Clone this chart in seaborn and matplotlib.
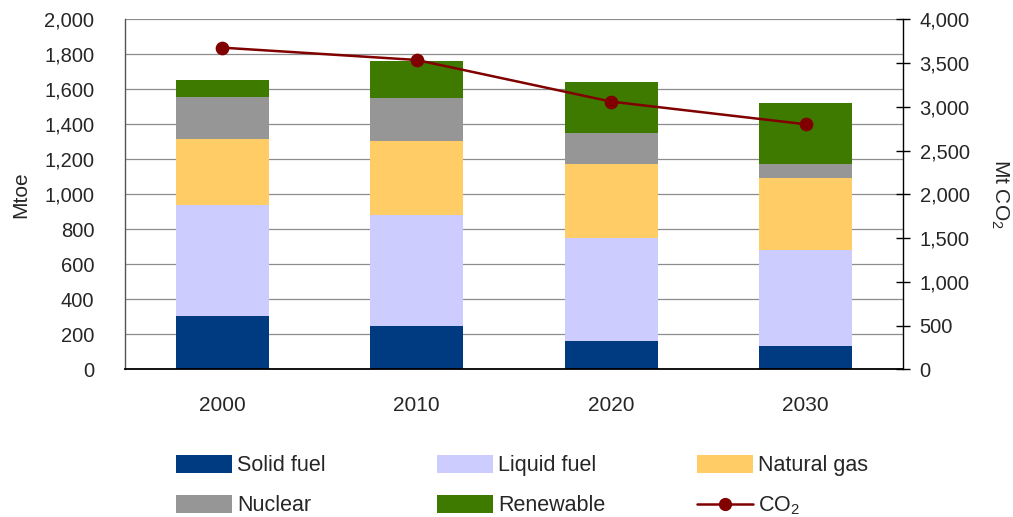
import numpy as np
import pandas as pd
import matplotlib
matplotlib.use("Agg")
import matplotlib.pyplot as plt
from matplotlib.ticker import FuncFormatter
from matplotlib.patches import Patch
from matplotlib.lines import Line2D
import seaborn as sns

years = ["2000", "2010", "2020", "2030"]
solid = [305, 248, 162, 133]
liquid = [634, 634, 588, 551]
gas = [377, 423, 423, 409]
nuclear = [240, 245, 177, 80]
renewable = [97, 212, 292, 349]
co2 = [3676, 3535, 3059, 2800]

series_names = ["Solid fuel", "Liquid fuel", "Natural gas", "Nuclear", "Renewable"]
series_vals = [solid, liquid, gas, nuclear, renewable]
colors = ["#003A80", "#CCCCFF", "#FFCC66", "#969696", "#3F7A00"]
co2_color = "#800000"

sns.set_style("white")
plt.rcParams["font.family"] = ["Liberation Sans", "DejaVu Sans"]
plt.rcParams["mathtext.fontset"] = "custom"
plt.rcParams["mathtext.rm"] = "Liberation Sans"
plt.rcParams["mathtext.it"] = "Liberation Sans:italic"

fs_tick = 14.5
fs_lab = 15
fs_leg = 15.5
fig = plt.figure(figsize=(10.13, 5.17), dpi=100)
ax = fig.add_axes([0.1234, 0.2857, 0.7680, 0.6770])

cum = np.cumsum(np.array(series_vals), axis=0)
for i in range(len(series_names) - 1, -1, -1):
    df = pd.DataFrame({"year": years, "value": cum[i]})
    sns.barplot(data=df, x="year", y="value", color=colors[i], saturation=1,
                width=0.48, ax=ax, errorbar=None, linewidth=0, zorder=2)

ax.set_xlim(-0.5, 3.5)
ax.set_ylim(0, 2000)
ax.set_yticks(np.arange(0, 2001, 200))
ax.yaxis.set_major_formatter(FuncFormatter(lambda v, p: f"{int(v):,}"))
ax.grid(axis="y", color="#8c8c8c", linewidth=0.9, zorder=0)
ax.set_axisbelow(True)
ax.set_xlabel("")
ax.set_ylabel("Mtoe", fontsize=fs_lab, labelpad=10)
ax.tick_params(axis="x", length=0, pad=19, labelsize=15)
ax.tick_params(axis="y", length=0, pad=22, labelsize=fs_tick)
for s in ["top", "right"]:
    ax.spines[s].set_visible(False)
ax.spines["left"].set_color("#555555")
ax.spines["left"].set_linewidth(1.0)
ax.spines["bottom"].set_color("#000000")
ax.spines["bottom"].set_linewidth(1.3)

ax2 = ax.twinx()
sns.pointplot(x=years, y=co2, ax=ax2, color=co2_color, markers="o",
              markersize=8.5, linewidth=1.8, errorbar=None)
ax2.set_xlim(-0.5, 3.5)
ax2.set_ylim(0, 4000)
ax2.set_yticks(np.arange(0, 4001, 500))
ax2.yaxis.set_major_formatter(FuncFormatter(lambda v, p: f"{int(v):,}"))
ax2.tick_params(axis="y", direction="inout", length=10, width=1, pad=7,
                labelsize=fs_tick, color="#000000")
ax2.set_ylabel("Mt CO$_2$", fontsize=fs_lab, rotation=270, labelpad=29)
for s in ["top", "left", "bottom"]:
    ax2.spines[s].set_visible(False)
ax2.spines["right"].set_color("#000000")
ax2.spines["right"].set_linewidth(1.0)
ax2.grid(False)

handles = [Patch(facecolor=c, edgecolor="none") for c in colors]
co2_handle = Line2D([], [], color=co2_color, linewidth=1.8, marker="o", markersize=8.5)
all_handles = handles + [co2_handle]
all_labels = series_names + ["CO$_{2}$"]
columns = [[0, 3], [1, 4], [2, 5]]
xs = [176, 437, 697]
for col, x0 in zip(columns, xs):
    fig.legend([all_handles[k] for k in col], [all_labels[k] for k in col],
               loc="upper left", bbox_to_anchor=(x0 / 1013, 1 - 455 / 517),
               frameon=False, fontsize=fs_leg, handlelength=2.6, handleheight=0.9,
               handletextpad=0.23, labelspacing=0.86, borderpad=0, borderaxespad=0)

fig.savefig("out.png", dpi=100)
